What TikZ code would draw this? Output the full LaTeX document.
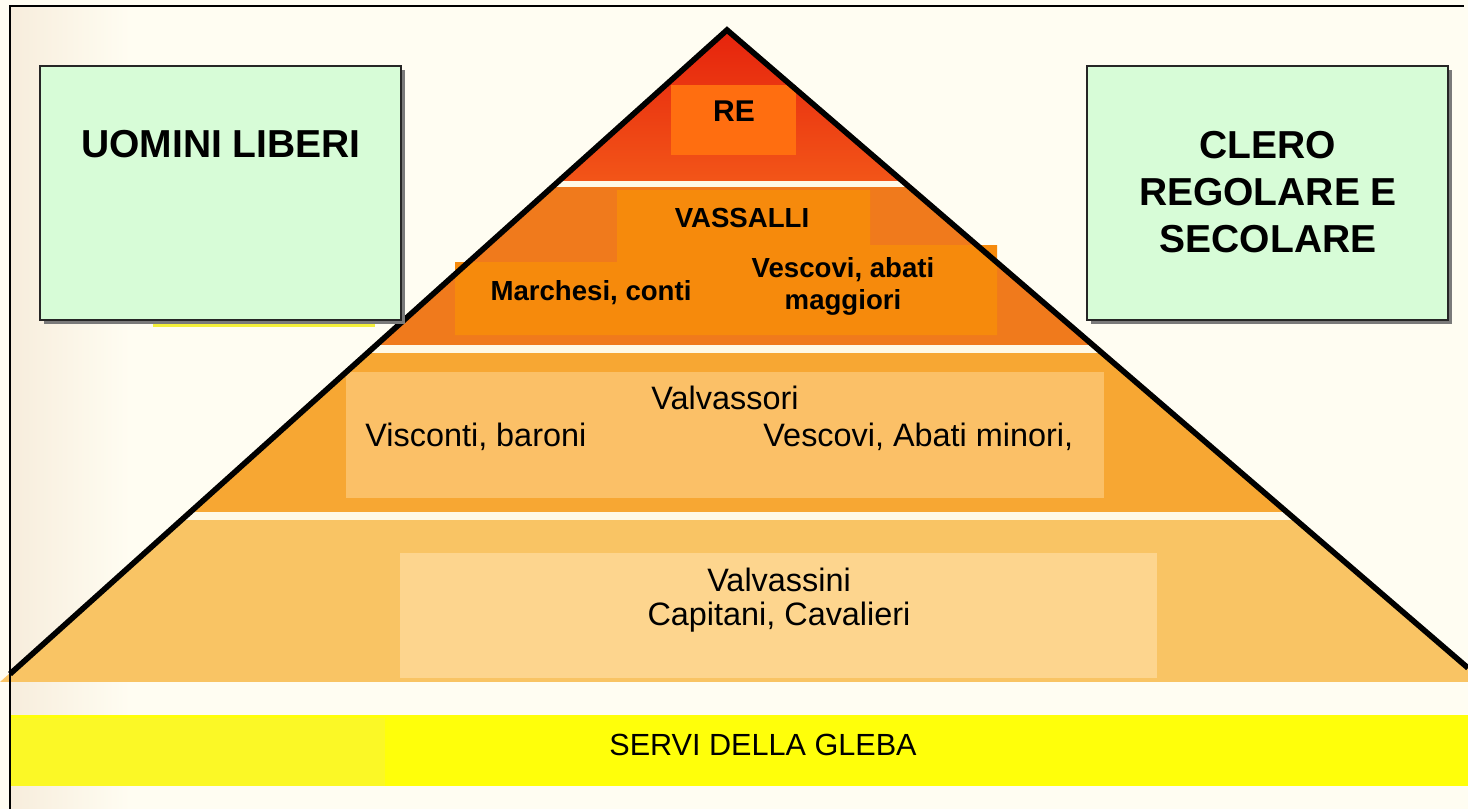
\documentclass[tikz,border=0pt]{standalone}
\usepackage{fontspec}
\setmainfont{Liberation Sans}
\definecolor{bgcream}{HTML}{FFFDF2}
\definecolor{bgbeige}{HTML}{F7EDDC}
\definecolor{gapc}{HTML}{FFF9E6}
\definecolor{bandtop}{HTML}{E5200C}
\definecolor{bandbot}{HTML}{F25518}
\definecolor{rebox}{HTML}{FF6E10}
\definecolor{bandtwo}{HTML}{F07A1C}
\definecolor{bandtwobox}{HTML}{F68A0C}
\definecolor{bandthree}{HTML}{F7A733}
\definecolor{bandthreebox}{HTML}{FBC067}
\definecolor{bandfour}{HTML}{F9C464}
\definecolor{bandfourbox}{HTML}{FDD58E}
\definecolor{yel}{HTML}{FFFF0A}
\definecolor{yeltwo}{HTML}{FBF826}
\definecolor{smear}{HTML}{F4F03A}
\definecolor{greenbox}{HTML}{D7FCD7}
\definecolor{shadowc}{HTML}{7A7A7A}
\tikzset{
  greenpanel/.style={fill=greenbox, draw=black!85, line width=0.8pt},
  panelshadow/.style={fill=shadowc},
  bigtxt/.style={font=\fontsize{19.5}{23.3}\selectfont\bfseries, inner sep=0pt, align=center},
  midbold/.style={font=\fontsize{13.8}{16}\selectfont\bfseries, inner sep=0pt, align=center},
  lowtxt/.style={font=\fontsize{16.2}{17}\selectfont, inner sep=0pt, align=center},
}
\begin{document}
\begin{tikzpicture}[x=0.5pt,y=-0.5pt]
\useasboundingbox (0,0) rectangle (1468,809);
\fill[bgcream] (0,0) rectangle (1468,809);
\shade[left color=bgbeige, right color=bgcream] (10,6) rectangle (130,809);
% pyramid bands
\begin{scope}
\clip (727,30) -- (1468,668) -- (1468,682) -- (0,682) -- cycle;
\shade[top color=bandtop, bottom color=bandbot] (0,20) rectangle (1468,181);
\fill[gapc] (0,181) rectangle (1468,187);
\fill[bandtwo] (0,187) rectangle (1468,345);
\fill[gapc] (0,345) rectangle (1468,353);
\fill[bandthree] (0,353) rectangle (1468,512);
\fill[gapc] (0,512) rectangle (1468,520);
\fill[bandfour] (0,520) rectangle (1468,682);
\end{scope}
% inner boxes
\fill[rebox] (671,85) rectangle (796,155);
\fill[bandtwobox] (617,190) -- (870,190) -- (870,245) -- (997,245) -- (997,335) -- (455,335) -- (455,262) -- (617,262) -- cycle;
\fill[bandthreebox] (346,372) rectangle (1104,498);
\fill[bandfourbox] (400,553) rectangle (1157,678);
% serfs band
\fill[yel] (10,715) rectangle (1468,786);
\fill[yeltwo] (10,718) rectangle (385,786);
% pyramid outline
\draw[line width=2.8pt, line join=miter] (10,674) -- (727,30) -- (1468,668);
% yellow smear under left panel
\fill[smear] (153,318) rectangle (375,327);
% side panels
\fill[panelshadow] (44,70) rectangle (405,324);
\fill[greenpanel] (40,66) rectangle (401,320);
\fill[panelshadow] (1091,70) rectangle (1452,324);
\fill[greenpanel] (1087,66) rectangle (1448,320);
% frame
\draw[line width=1pt] (10,809) -- (10,6) -- (1464,6);
% texts
\node[bigtxt] (uomini) at (221,144) {UOMINI LIBERI};
\node[bigtxt] (clero) at (1268,192) {CLERO\\REGOLARE E\\SECOLARE};
\node[font=\fontsize{15}{18}\selectfont\bfseries, inner sep=0pt] (re) at (734,111) {RE};
\node[midbold] (vassalli) at (742,218) {VASSALLI};
\node[midbold, anchor=base] (marchesi) at (591,300) {Marchesi, conti};
\node[midbold] (vescmag) at (843,286) {Vescovi, abati\\maggiori};
\node[lowtxt, anchor=base] (valvassori) at (725,409) {Valvassori};
\node[lowtxt, anchor=base west] (visconti) at (365,446) {Visconti, baroni};
\node[lowtxt, anchor=base west] (vescmin) at (763,446) {Vescovi, Abati minori,};
\node[lowtxt] (valvassini) at (779,600) {Valvassini\\Capitani, Cavalieri};
\node[font=\fontsize{15.3}{18}\selectfont, inner sep=0pt] (servi) at (763,745) {SERVI DELLA GLEBA};
\end{tikzpicture}
\end{document}
